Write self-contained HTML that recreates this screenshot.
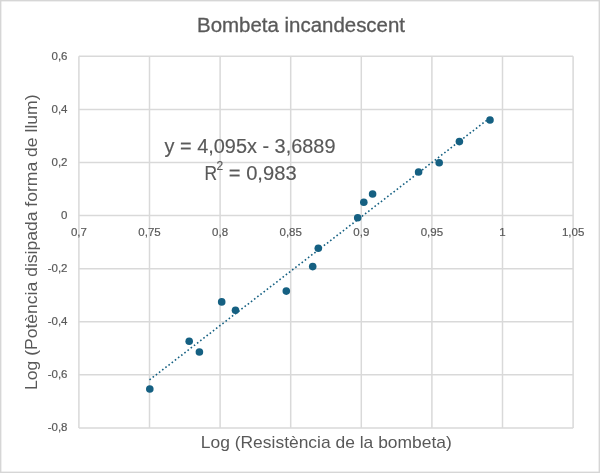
<!DOCTYPE html>
<html><head><meta charset="utf-8"><style>
html,body{margin:0;padding:0;background:#fff;}
body{width:600px;height:473px;overflow:hidden;}
svg{display:block;will-change:transform;font-family:"Liberation Sans",sans-serif;}
</style></head><body>
<svg width="600" height="473" viewBox="0 0 600 473">
<rect x="0.7" y="0.7" width="598.6" height="471.6" fill="#fff" stroke="#d6d6d6" stroke-width="1.4"/>
<g stroke="#d9d9d9" stroke-width="1.5" fill="none">
<line x1="78.90" y1="56.3" x2="78.90" y2="427.9"/><line x1="149.50" y1="56.3" x2="149.50" y2="427.9"/><line x1="220.10" y1="56.3" x2="220.10" y2="427.9"/><line x1="290.70" y1="56.3" x2="290.70" y2="427.9"/><line x1="361.30" y1="56.3" x2="361.30" y2="427.9"/><line x1="431.90" y1="56.3" x2="431.90" y2="427.9"/><line x1="502.50" y1="56.3" x2="502.50" y2="427.9"/><line x1="573.10" y1="56.3" x2="573.10" y2="427.9"/><line x1="78.9" y1="56.30" x2="573.1" y2="56.30"/><line x1="78.9" y1="109.39" x2="573.1" y2="109.39"/><line x1="78.9" y1="162.47" x2="573.1" y2="162.47"/><line x1="78.9" y1="215.56" x2="573.1" y2="215.56"/><line x1="78.9" y1="268.64" x2="573.1" y2="268.64"/><line x1="78.9" y1="321.73" x2="573.1" y2="321.73"/><line x1="78.9" y1="374.81" x2="573.1" y2="374.81"/><line x1="78.9" y1="427.90" x2="573.1" y2="427.90"/>
</g>
<g fill="#595959" font-size="11.5" stroke="#595959" stroke-width="0.2">
<text x="67.5" y="59.70" text-anchor="end">0,6</text><text x="67.5" y="112.79" text-anchor="end">0,4</text><text x="67.5" y="165.87" text-anchor="end">0,2</text><text x="67.5" y="218.96" text-anchor="end">0</text><text x="67.5" y="272.04" text-anchor="end">-0,2</text><text x="67.5" y="325.13" text-anchor="end">-0,4</text><text x="67.5" y="378.21" text-anchor="end">-0,6</text><text x="67.5" y="431.30" text-anchor="end">-0,8</text>
<text x="78.90" y="236.0" text-anchor="middle">0,7</text><text x="149.50" y="236.0" text-anchor="middle">0,75</text><text x="220.10" y="236.0" text-anchor="middle">0,8</text><text x="290.70" y="236.0" text-anchor="middle">0,85</text><text x="361.30" y="236.0" text-anchor="middle">0,9</text><text x="431.90" y="236.0" text-anchor="middle">0,95</text><text x="502.50" y="236.0" text-anchor="middle">1</text><text x="573.10" y="236.0" text-anchor="middle">1,05</text>
</g>
<line x1="149.5" y1="379.90" x2="490.0" y2="117.79" stroke="#156082" stroke-width="1.6" stroke-dasharray="1.6 2.4"/>
<g fill="#156082">
<circle cx="149.8" cy="389.0" r="3.8"/><circle cx="189.2" cy="341.2" r="3.8"/><circle cx="199.4" cy="352.0" r="3.8"/><circle cx="221.7" cy="301.9" r="3.8"/><circle cx="235.5" cy="310.3" r="3.8"/><circle cx="286.3" cy="291.1" r="3.8"/><circle cx="312.7" cy="266.6" r="3.8"/><circle cx="318.3" cy="248.2" r="3.8"/><circle cx="357.7" cy="217.8" r="3.8"/><circle cx="363.8" cy="202.2" r="3.8"/><circle cx="372.6" cy="194.0" r="3.8"/><circle cx="418.6" cy="172.0" r="3.8"/><circle cx="439.2" cy="162.8" r="3.8"/><circle cx="459.4" cy="141.6" r="3.8"/><circle cx="490.0" cy="120.0" r="3.8"/>
</g>
<text x="197.0" y="31.5" font-size="20" fill="#595959" stroke="#595959" stroke-width="0.3" textLength="208" lengthAdjust="spacingAndGlyphs">Bombeta incandescent</text>
<g fill="#595959" font-size="20" stroke="#595959" stroke-width="0.15">
<text x="164.5" y="152.5" textLength="171" lengthAdjust="spacingAndGlyphs">y = 4,095x - 3,6889</text>
<text transform="translate(204.5,179.8) scale(0.87,1)">R</text>
<text x="216.5" y="169.7" font-size="12">2</text>
<text x="228.8" y="179.8" textLength="67.8" lengthAdjust="spacingAndGlyphs">= 0,983</text>
</g>
<text x="200.8" y="448.2" font-size="17" fill="#595959" textLength="251" lengthAdjust="spacingAndGlyphs">Log (Resistència de la bombeta)</text>
<text transform="translate(37.4,390.0) rotate(-90)" x="0" y="0" font-size="17" fill="#595959" textLength="295.5" lengthAdjust="spacingAndGlyphs">Log (Potència disipada forma de llum)</text>
</svg>
</body></html>
